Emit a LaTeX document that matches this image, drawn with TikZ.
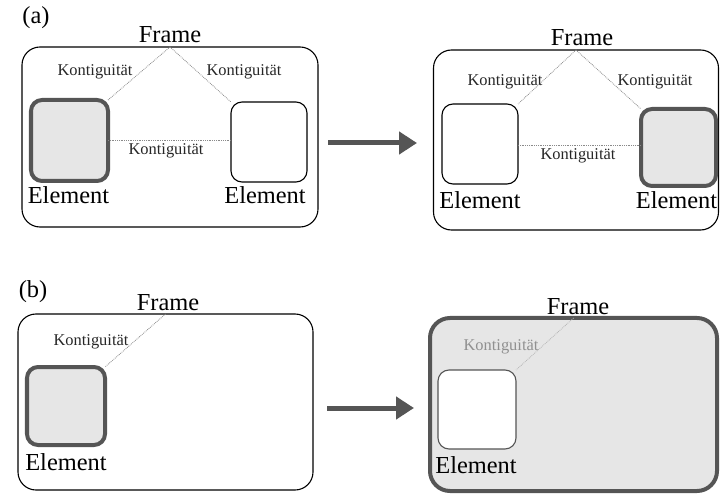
\documentclass[tikz,border=0pt]{standalone}
\usepackage{fontspec}
\setmainfont{Liberation Serif}
\usetikzlibrary{calc,arrows.meta}
\definecolor{hotgray}{HTML}{555555}
\definecolor{fillgray}{HTML}{E6E6E6}
\definecolor{linkgray}{HTML}{8A8A8A}
\definecolor{palegray}{HTML}{B4B4B4}
\begin{document}
\begin{tikzpicture}[x=1bp,y=-1bp,
  box/.style={rectangle, inner sep=0pt, outer sep=0pt},
  framebox/.style={box, draw=black, line width=1.1bp, rounded corners=18bp},
  framehot/.style={box, draw=hotgray, line width=4bp, fill=fillgray, rounded corners=20bp},
  elem/.style={box, draw=black, line width=1.1bp, rounded corners=11bp, fill=white},
  elemhot/.style={box, draw=hotgray, line width=4bp, fill=fillgray, rounded corners=11bp},
  link/.style={draw=linkgray, line width=0.8bp, densely dotted},
  palelink/.style={draw=palegray, line width=0.8bp, densely dotted},
  kont/.style={font=\fontsize{16.5}{16.5}\selectfont, text=black!85, inner sep=1bp},
  big/.style={font=\fontsize{24.5}{24.5}\selectfont, inner sep=0pt},
  bigarrow/.style={draw=hotgray, line width=5bp, -{Triangle[length=18bp,width=22bp]}}
]
\useasboundingbox (0,0) rectangle (720,495);

% ---------- (a) left ----------
\node[big] (la) at (36,18) {(a)};
\node[framebox, minimum width=296bp, minimum height=180bp] (fA1) at (170,137) {};
\node[elemhot, minimum width=77bp, minimum height=81bp] (eA1L) at (69.5,140.5) {};
\node[elem, minimum width=76bp, minimum height=80bp] (eA1R) at (269,142) {};
\node[big, anchor=base] (tfA1) at (170,43) {Frame};
\node[big, anchor=base] (teA1L) at ($(eA1L.south)+(-1,23)$) {Element};
\node[big, anchor=base] (teA1R) at ($(eA1R.south)+(-4,22)$) {Element};
\draw[link] (fA1.north) -- (eA1L.north east);
\draw[link] (fA1.north) -- (eA1R.north west);
\draw[link] (eA1L.east |- 0,140) -- (eA1R.west |- 0,140);
\node[kont] (kA1a) at (95,72) {Kontiguität};
\node[kont] (kA1b) at (244,72) {Kontiguität};
\node[kont] (kA1c) at (166,151) {Kontiguität};

% ---------- arrow (a) ----------
\coordinate (aAs) at (328,143);
\coordinate (aAe) at (417,143);
\draw[bigarrow] (aAs) -- (aAe);

% ---------- (a) right ----------
\node[framebox, minimum width=285bp, minimum height=180bp] (fA2) at (576,140) {};
\node[elem, minimum width=76bp, minimum height=80bp] (eA2L) at (480,144) {};
\node[elemhot, minimum width=75bp, minimum height=77bp] (eA2R) at (678.5,147.5) {};
\node[big, anchor=base] (tfA2) at (582,46) {Frame};
\node[big, anchor=base] (teA2L) at ($(eA2L.south)+(0,25)$) {Element};
\node[big, anchor=base] (teA2R) at ($(eA2R.south)+(-2,23)$) {Element};
\draw[link] (fA2.north) -- (eA2L.north east);
\draw[link] (fA2.north) -- (eA2R.north west);
\draw[link] (eA2L.east |- 0,145) -- (eA2R.west |- 0,145);
\node[kont] (kA2a) at (505,82) {Kontiguität};
\node[kont] (kA2b) at (655,82) {Kontiguität};
\node[kont] (kA2c) at (578,156) {Kontiguität};

% ---------- (b) left ----------
\node[big] (lb) at (33,292) {(b)};
\node[framebox, minimum width=295bp, minimum height=176bp] (fB1) at (165.5,402) {};
\node[elemhot, minimum width=78bp, minimum height=78bp] (eB1) at (66,406) {};
\node[big, anchor=base] (tfB1) at (168,310) {Frame};
\node[big, anchor=base] (teB1) at ($(eB1.south)+(0,25)$) {Element};
\draw[link] (fB1.north) -- (eB1.north east);
\node[kont] (kB1) at (91,342) {Kontiguität};

% ---------- arrow (b) ----------
\coordinate (aBs) at (327,408);
\coordinate (aBe) at (414,408);
\draw[bigarrow] (aBs) -- (aBe);

% ---------- (b) right ----------
\node[framehot, minimum width=287bp, minimum height=173bp] (fB2) at (573.5,404.5) {};
\node[elem, draw=hotgray, minimum width=78bp, minimum height=79bp] (eB2) at (477,409.5) {};
\node[big, anchor=base] (tfB2) at (578,314) {Frame};
\node[big, anchor=base] (teB2) at ($(eB2.south)+(-1,24)$) {Element};
\draw[palelink] (fB2.north) -- (eB2.north east);
\node[kont, text=palegray!80!black] (kB2) at (501,347) {Kontiguität};
\end{tikzpicture}
\end{document}
